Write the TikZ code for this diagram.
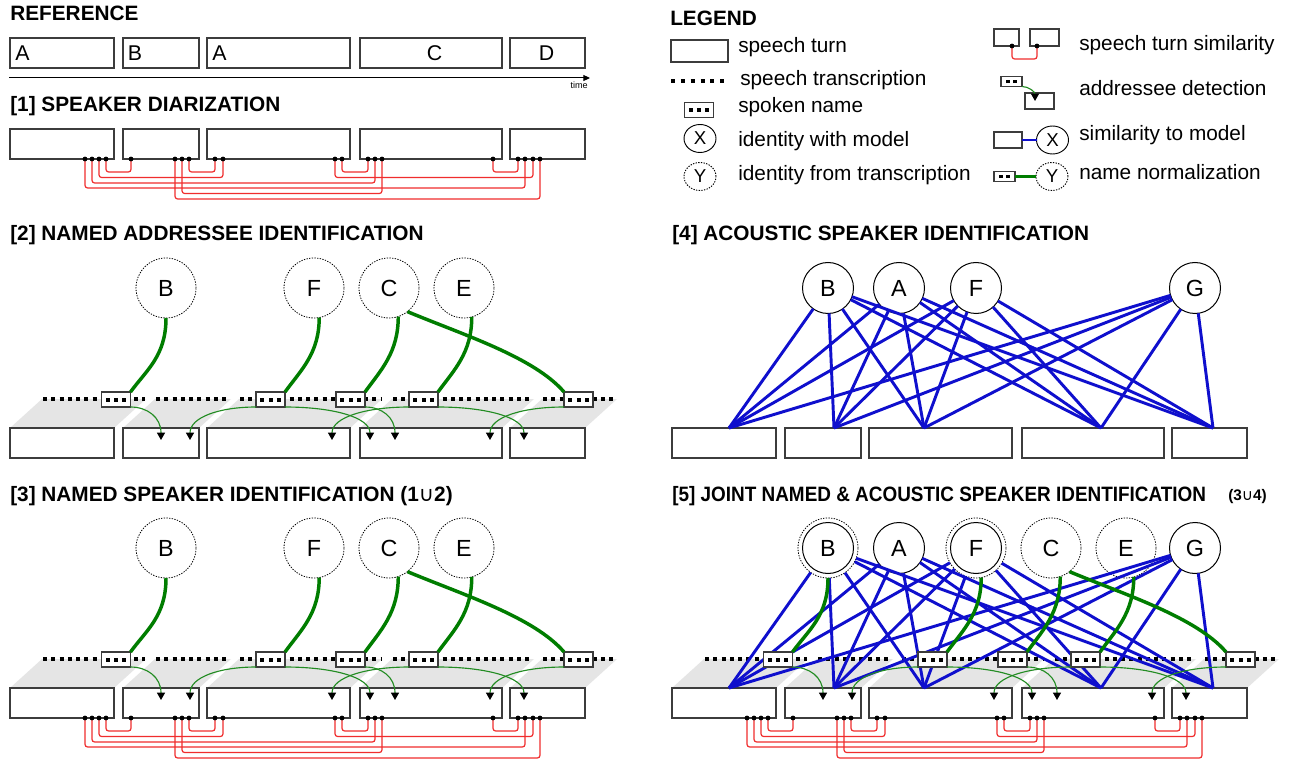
\documentclass[tikz,border=0pt]{standalone}
\usepackage{fontspec}
\usepackage{graphicx}
\setmainfont{Liberation Sans}
\newfontfamily\symfont{DejaVu Sans}
\usetikzlibrary{arrows.meta,shapes.geometric,calc}
\definecolor{ngreen}{RGB}{0,125,0}
\definecolor{agreen}{RGB}{35,140,35}
\definecolor{sblue}{RGB}{15,15,205}
\definecolor{sred}{RGB}{240,45,45}
\definecolor{boxc}{RGB}{60,60,60}
\definecolor{shadegray}{RGB}{229,229,229}
\tikzset{
  turn/.style={draw=boxc, line width=1pt, fill=white, inner sep=0pt, outer sep=0pt},
  ttl/.style={anchor=base west, inner sep=0pt, font=\fontsize{15.6}{18}\selectfont\bfseries},
  lgd/.style={anchor=west, inner sep=0pt, font=\fontsize{15.6}{18}\selectfont},
  reflbl/.style={anchor=base west, inner sep=0pt, font=\fontsize{16}{18}\selectfont},
  idm/.style={circle, draw=black, line width=0.75pt, fill=white, minimum size=38.25pt, inner sep=0pt, outer sep=0pt, font=\fontsize{17.5}{20}\selectfont},
  idt/.style={circle, draw=black, dash pattern=on 1pt off 1pt, line width=0.6pt, minimum size=45pt, inner sep=0pt, outer sep=0pt, font=\fontsize{17.5}{20}\selectfont},
  lgid/.style={ellipse, draw=black, line width=0.7pt, minimum width=24pt, minimum height=21pt, inner sep=0pt, outer sep=0pt, font=\fontsize{14}{16}\selectfont},
  spk/.style={draw=boxc, line width=1pt, fill=white, minimum width=21.75pt, minimum height=11.25pt, inner sep=0pt, outer sep=0pt},
  spkmini/.style={draw=boxc, line width=1pt, fill=white, minimum width=15.75pt, minimum height=7.5pt, inner sep=0pt, outer sep=0pt},
  trans/.style={draw=black, line width=3pt, dash pattern=on 3pt off 3.2pt},
  redl/.style={draw=sred, line width=0.9pt, rounded corners=2pt},
  sim/.style={draw=sblue, line width=2.2pt},
  norm/.style={draw=ngreen, line width=2.6pt},
  addr/.style={draw=agreen, line width=0.85pt, -{Triangle[width=6pt,length=5.5pt,color=black,fill=black]}},
  dotn/.style={circle, fill=black, inner sep=0pt, minimum size=3.6pt},
}
\newcommand\spkdots{\rule{3pt}{3pt}\hspace{3.2pt}\rule{3pt}{3pt}\hspace{3.2pt}\rule{3pt}{3pt}}
\newcommand\spkdotstwo{\rule{2.6pt}{2.6pt}\hspace{2.8pt}\rule{2.6pt}{2.6pt}}
\newcommand\turnbox[5]{\node[turn, minimum width={(#3-#2)*0.75pt}, minimum height={(#5-#4)*0.75pt}] (#1) at ({(#2+#3)/2},{(#4+#5)/2}) {};}
\newcommand\turnrow[3]{%
  \turnbox{t1#1}{10}{114}{#2}{#3}%
  \turnbox{t2#1}{123}{199}{#2}{#3}%
  \turnbox{t3#1}{207}{350}{#2}{#3}%
  \turnbox{t4#1}{360}{502}{#2}{#3}%
  \turnbox{t5#1}{510}{585}{#2}{#3}}
\newcommand\redlinks[2]{%
  \foreach \n/\x in {a/85,b/92,c/99,d/106,e/131,f/175,g/182,h/189,i/215,j/223,k/335,l/342,m/368,n/375,o/382,p/493,q/518,r/525,s/533,t/540}
    {\coordinate (d\n#1) at (\x,#2);}
  \draw[redl] (dd#1) -- ++(0,13) -| (de#1);
  \draw[redl] (dh#1) -- ++(0,13) -| (di#1);
  \draw[redl] (dl#1) -- ++(0,13) -| (dm#1);
  \draw[redl] (dp#1) -- ++(0,13) -| (dq#1);
  \draw[redl] (dc#1) -- ++(0,18.5) -| (dj#1);
  \draw[redl] (dk#1) -- ++(0,18.5) -| (ds#1);
  \draw[redl] (db#1) -- ++(0,24) -| (dn#1);
  \draw[redl] (da#1) -- ++(0,29) -| (dr#1);
  \draw[redl] (dg#1) -- ++(0,34.5) -| (do#1);
  \draw[redl] (df#1) -- ++(0,40) -| (dt#1);
  \foreach \n in {a,...,t} {\node[dotn] at (d\n#1) {};}}
\newcommand\shades{%
  \foreach \a/\b in {10/114,123/199,207/350,360/502,510/585}
    {\fill[shadegray] (\a,428) -- (\b,428) -- (\b+32,399) -- (\a+32,399) -- cycle;}}
\newcommand\transline{%
  \foreach \a/\b in {10/114,123/199,207/350,360/502,510/585}
    {\draw[trans] (\a+33,399) -- (\b+31,399);}}
\newcommand\spoken[1]{%
  \node[spk] (s1#1) at (116,399.5) {\spkdots};
  \node[spk] (s2#1) at (270.5,399.5) {\spkdots};
  \node[spk] (s3#1) at (350.5,399.5) {\spkdots};
  \node[spk] (s4#1) at (423.5,399.5) {\spkdots};
  \node[spk] (s5#1) at (578.5,399.5) {\spkdots};
  \coordinate (a1#1) at (161,440); \coordinate (a2#1) at (190,440);
  \coordinate (a3#1) at (370,440); \coordinate (a4#1) at (395,440);
  \coordinate (a5#1) at (332,440); \coordinate (a6#1) at (524,440);
  \coordinate (a7#1) at (490,440);
  \draw[addr] (s1#1.south east) .. controls +(16.5,0) and +(0,-23) .. (a1#1);
  \draw[addr] (s2#1.south west) .. controls +(-36,0) and +(0,-23) .. (a2#1);
  \draw[addr] (s2#1.south east) .. controls +(47,0) and +(0,-23) .. (a3#1);
  \draw[addr] (s3#1.south east) .. controls +(16.5,0) and +(0,-23) .. (a4#1);
  \draw[addr] (s4#1.south west) .. controls +(-42,0) and +(0,-23) .. (a5#1);
  \draw[addr] (s4#1.south east) .. controls +(47,0) and +(0,-23) .. (a6#1);
  \draw[addr] (s5#1.south west) .. controls +(-41,0) and +(0,-23) .. (a7#1);}
\newcommand\normlinks[5]{%
  \draw[norm] (#2.south) .. controls +(0,38) and +(16,-22) .. (s1#1.north east);
  \draw[norm] (#3.-80) .. controls +(0,36) and +(16,-22) .. (s2#1.north east);
  \draw[norm] (#4.-72) .. controls +(0,36) and +(16,-22) .. (s3#1.north east);
  \draw[norm] (#5.-75) .. controls +(0,36) and +(16,-22) .. (s4#1.north east);
  \draw[norm] (#4.-52) .. controls +(55,23) and +(-30,-35) .. (s5#1.north west);}
\newcommand\anchorsp[1]{%
  \coordinate (p1#1) at (67,428); \coordinate (p2#1) at (172,428);
  \coordinate (p3#1) at (262,428); \coordinate (p4#1) at (439,428);
  \coordinate (p5#1) at (551,428);}
\newcommand\simlinks[5]{%
  \foreach \p in {1,...,5}{%
    \draw[sim] (#2) -- (p\p#1); \draw[sim] (#3) -- (p\p#1);
    \draw[sim] (#4) -- (p\p#1); \draw[sim] (#5) -- (p\p#1);}}
\begin{document}
\begin{tikzpicture}[x=0.75pt,y=-0.75pt]
\fill[white] (0,0) rectangle (1289,759);
\useasboundingbox (0,0) rectangle (1289,759);
% titles
\node[ttl] (ttlref) at (10,21) {REFERENCE};
\node[ttl] (ttllg) at (670,26) {LEGEND};
\node[ttl] (ttl1) at (10,112) {[1] SPEAKER DIARIZATION};
\node[ttl] (ttl2) at (10,241) {[2] NAMED ADDRESSEE IDENTIFICATION};
\node[ttl] (ttl4) at (672,241) {[4] ACOUSTIC SPEAKER IDENTIFICATION};
\node[ttl] (ttl3) at (10,501) {[3] NAMED SPEAKER IDENTIFICATION (1{\symfont\mdseries ∪}2)};
\node[ttl] (ttl5) at (672,501) {\scalebox{0.91}[1]{[5] JOINT NAMED \& ACOUSTIC SPEAKER IDENTIFICATION}};
\node[ttl, font=\fontsize{11.5}{14}\selectfont\bfseries] (ttl5b) at (1228,500) {(3{\symfont\mdseries ∪}4)};
% reference row
\turnrow{r}{38}{68}
\node[reflbl] (ra1) at (15,60.7) {A};
\node[reflbl] (rb) at (127.5,60.7) {B};
\node[reflbl] (ra2) at (212,60.7) {A};
\node[reflbl, anchor=base] (rc) at (434.5,60.7) {C};
\node[reflbl, anchor=base] (rd) at (546.5,60.7) {D};
\coordinate (tl) at (9,78); \coordinate (tr) at (590,78);
\draw[line width=0.75pt, -{Triangle[length=5pt,width=4.5pt]}] (tl) -- (tr);
\node[anchor=north east, inner sep=0pt, font=\fontsize{6.8}{8}\selectfont] (tm) at (588,81.5) {time};
% panel 1
\turnrow{d}{129}{159}
\redlinks{d}{159}
% legend left
\turnbox{lgturn}{671}{728}{40}{62}
\node[lgd] (lgturnt) at (738,47.5) {speech turn};
\coordinate (lgtr1) at (671,81); \coordinate (lgtr2) at (724,81);
\draw[trans, dash pattern=on 3pt off 4.4pt] (lgtr1) -- (lgtr2);
\node[lgd] (lgtrt) at (740,80) {speech transcription};
\node[spk] (lgspk) at (699,110) {\spkdots};
\node[lgd] (lgspkt) at (738,107.5) {spoken name};
\node[lgid] (lgX) at (700,138.5) {X};
\node[lgd] (lgXt) at (738,141) {identity with model};
\node[lgid, dash pattern=on 1pt off 1pt] (lgY) at (700,176.5) {Y};
\node[lgd] (lgYt) at (738,175.5) {identity from transcription};
% legend right
\turnbox{lgsa}{994}{1019}{29}{46}
\turnbox{lgsb}{1030}{1059}{29}{46}
\coordinate (lgd1) at (1012,46); \coordinate (lgd2) at (1037,46);
\draw[redl] (lgd1) -- ++(0,13) -| (lgd2);
\node[dotn] at (lgd1) {}; \node[dotn] at (lgd2) {};
\node[lgd] (lgst) at (1079,45) {speech turn similarity};
\node[spkmini] (lgam) at (1011.5,81.5) {\spkdotstwo};
\turnbox{lgat}{1025}{1054}{93}{109}
\coordinate (lgatip) at (1035,101);
\draw[addr] (lgam.south east) .. controls +(7,0) and +(0,-9) .. (lgatip);
\node[lgd] (lgadt) at (1079,88) {addressee detection};
\turnbox{lgsim}{994}{1022}{132}{148}
\node[lgid] (lgX2) at (1052.5,140) {X};
\draw[sim] (lgsim) -- (lgX2);
\node[lgd] (lgsimt) at (1079,135) {similarity to model};
\node[spkmini] (lgnm) at (1004.5,176.5) {\spkdotstwo};
\node[lgid, dash pattern=on 1pt off 1pt] (lgY2) at (1052,176.5) {Y};
\draw[norm] (lgnm) -- (lgY2);
\node[lgd] (lgnmt) at (1079,172) {name normalization};
% panel 2
\shades
\turnrow{n}{428}{458}
\transline
\node[idt] (cBn) at (166,288) {B};
\node[idt] (cFn) at (314,288) {F};
\node[idt] (cCn) at (389,288) {C};
\node[idt] (cEn) at (464,288) {E};
\spoken{n}
\normlinks{n}{cBn}{cFn}{cCn}{cEn}
% panel 3
\begin{scope}[shift={(0,260)}]
\shades
\turnrow{s}{428}{458}
\transline
\node[idt] (cBs) at (166,288) {B};
\node[idt] (cFs) at (314,288) {F};
\node[idt] (cCs) at (389,288) {C};
\node[idt] (cEs) at (464,288) {E};
\spoken{s}
\normlinks{s}{cBs}{cFs}{cCs}{cEs}
\redlinks{s}{458}
\end{scope}
% panel 4
\begin{scope}[shift={(662,0)}]
\turnrow{a}{428}{458}
\node[idm] (cBa) at (166,288) {B};
\node[idm] (cAa) at (237,288) {A};
\node[idm] (cFa) at (314,288) {F};
\node[idm] (cGa) at (533,288) {G};
\anchorsp{a}
\simlinks{a}{cBa}{cAa}{cFa}{cGa}
\end{scope}
% panel 5
\begin{scope}[shift={(662,260)}]
\shades
\turnrow{j}{428}{458}
\transline
\node[idm] (cBj) at (166,288) {B};
\node[idt] (cBjt) at (166,288) {};
\node[idm] (cAj) at (237,288) {A};
\node[idm] (cFj) at (314,288) {F};
\node[idt] (cFjt) at (314,288) {};
\node[idt] (cCj) at (389,288) {C};
\node[idt] (cEj) at (464,288) {E};
\node[idm] (cGj) at (533,288) {G};
\anchorsp{j}
\simlinks{j}{cBjt}{cAj}{cFjt}{cGj}
\spoken{j}
\normlinks{j}{cBjt}{cFjt}{cCj}{cEj}
\redlinks{j}{458}
\end{scope}
\end{tikzpicture}
\end{document}
